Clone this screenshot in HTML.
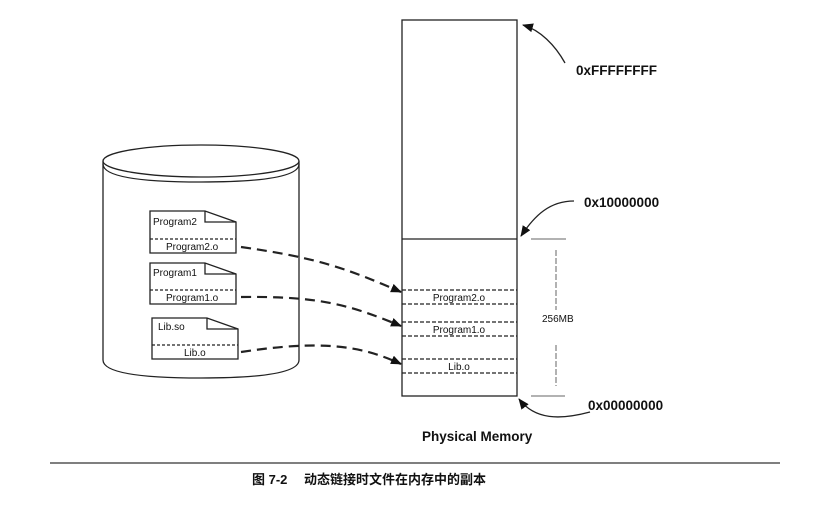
<!DOCTYPE html>
<html><head><meta charset="utf-8"><style>
body{margin:0;background:#fff;}
svg text{font-family:"Liberation Sans",Arial,sans-serif;fill:#111;}
</style></head><body>
<svg width="834" height="508" viewBox="0 0 834 508" xmlns="http://www.w3.org/2000/svg">
<defs><marker id="ah" markerWidth="11" markerHeight="9" refX="10" refY="4.5" orient="auto" markerUnits="userSpaceOnUse"><path d="M0,0 L11,4.5 L0,9 z" fill="#111"/></marker></defs>
<g stroke="#222" fill="none" stroke-width="1.3">
<path d="M103,161 L103,360 Q103,378 201,378 Q299,378 299,360 L299,161"/>
<ellipse cx="201" cy="161" rx="98" ry="16" fill="#fff"/>
<path d="M103,164 Q103,182 201,182 Q299,182 299,164"/>
<path d="M150,211 L205,211 L236,222 L236,253 L150,253 Z" fill="#fff"/>
<path d="M205,211 L205,222 L236,222"/>
<line x1="150" y1="239" x2="236" y2="239" stroke-dasharray="3,2"/>
<path d="M150,263 L205,263 L236,274 L236,304 L150,304 Z" fill="#fff"/>
<path d="M205,263 L205,274 L236,274"/>
<line x1="150" y1="290" x2="236" y2="290" stroke-dasharray="3,2"/>
<path d="M152,318 L207,318 L238,329 L238,359 L152,359 Z" fill="#fff"/>
<path d="M207,318 L207,329 L238,329"/>
<line x1="152" y1="345" x2="238" y2="345" stroke-dasharray="3,2"/>
<rect x="402" y="20" width="115" height="376"/>
<line x1="402" y1="239" x2="517" y2="239"/>
<g stroke-dasharray="4,2">
<line x1="402" y1="290" x2="517" y2="290"/><line x1="402" y1="304" x2="517" y2="304"/>
<line x1="402" y1="322" x2="517" y2="322"/><line x1="402" y1="336" x2="517" y2="336"/>
<line x1="402" y1="359" x2="517" y2="359"/><line x1="402" y1="373" x2="517" y2="373"/>
</g>
<g stroke-width="2.2" stroke-dasharray="10,6" marker-end="url(#ah)">
<path d="M241,247 C320,258 350,270 401,292"/>
<path d="M241,297 C320,296 350,305 401,326"/>
<path d="M241,352 C320,340 360,345 401,364"/>
</g>
<g stroke="#666" stroke-width="1">
<line x1="531" y1="239" x2="566" y2="239"/><line x1="531" y1="396" x2="565" y2="396"/>
<line x1="556" y1="250" x2="556" y2="310" stroke-dasharray="6,2"/>
<line x1="556" y1="345" x2="556" y2="386" stroke-dasharray="6,2"/>
</g>
<path d="M565,63 C555,45 540,30 523,25" marker-end="url(#ah)"/>
<path d="M574,201 C550,201 535,215 521,236" marker-end="url(#ah)"/>
<path d="M590,412 C560,420 535,420 519,399" marker-end="url(#ah)"/>
<line x1="50" y1="463" x2="780" y2="463" stroke="#333"/>
</g>
<g font-size="10">
<text x="153" y="225">Program2</text><text x="166" y="250">Program2.o</text>
<text x="153" y="276">Program1</text><text x="166" y="301">Program1.o</text>
<text x="158" y="330">Lib.so</text><text x="184" y="356">Lib.o</text>
<text x="459" y="301" text-anchor="middle">Program2.o</text>
<text x="459" y="333" text-anchor="middle">Program1.o</text>
<text x="459" y="370" text-anchor="middle">Lib.o</text>
<text x="542" y="322" fill="#333">256MB</text>
</g>
<g font-size="13.5" font-weight="bold">
<text x="576" y="75">0xFFFFFFFF</text>
<text x="584" y="207">0x10000000</text>
<text x="588" y="410">0x00000000</text>
<text x="422" y="441">Physical Memory</text>
</g>
<text x="252" y="484" font-size="13" font-weight="bold" style='font-family:"Liberation Sans","Noto Sans CJK SC",sans-serif'>图 7-2 　动态链接时文件在内存中的副本</text>
</svg>
</body></html>
